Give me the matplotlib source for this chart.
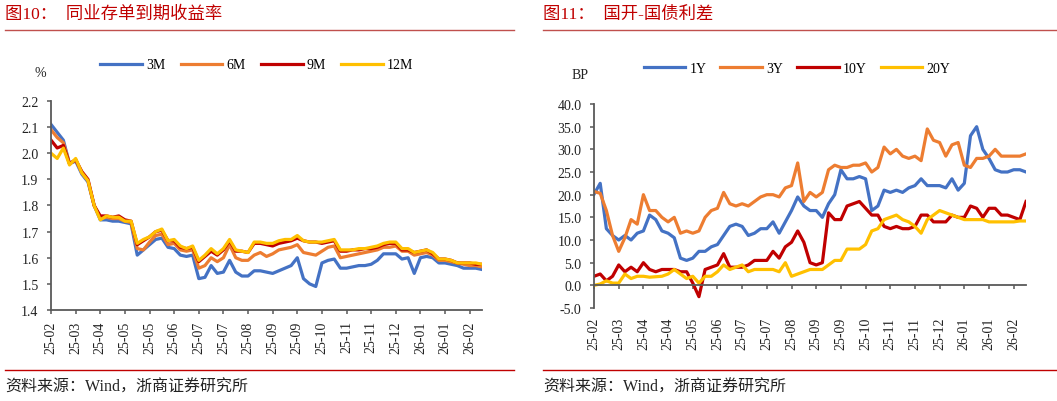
import numpy as np
import matplotlib.pyplot as plt
from matplotlib.lines import Line2D

plt.rcParams['font.family'] = ['Liberation Serif', 'Noto Sans CJK SC']
plt.rcParams['axes.unicode_minus'] = False

# ---- 图10 同业存单到期收益率 (%) ----
tick_left = ["25-02", "25-03", "25-04", "25-05", "25-05", "25-06", "25-07", "25-07", "25-08",
             "25-09", "25-09", "25-10", "25-11", "25-11", "25-12", "26-01", "26-01", "26-02"]

cd_3m = [2.11, 2.08, 2.05, 1.96, 1.97, 1.92, 1.89, 1.80, 1.745, 1.745,
         1.74, 1.74, 1.735, 1.73, 1.61, 1.63, 1.65, 1.67, 1.675, 1.64,
         1.635, 1.61, 1.605, 1.61, 1.52, 1.525, 1.57, 1.54, 1.545, 1.59,
         1.545, 1.53, 1.53, 1.55, 1.55, 1.545, 1.54, 1.55, 1.56, 1.57,
         1.60, 1.52, 1.50, 1.49, 1.58, 1.59, 1.595, 1.56, 1.56, 1.565,
         1.57, 1.57, 1.575, 1.59, 1.615, 1.615, 1.615, 1.595, 1.60, 1.54,
         1.60, 1.605, 1.60, 1.58, 1.58, 1.575, 1.57, 1.56, 1.56, 1.56, 1.555]
cd_6m = [2.09, 2.06, 2.04, 1.96, 1.975, 1.925, 1.895, 1.80, 1.75, 1.755,
         1.75, 1.75, 1.74, 1.735, 1.635, 1.63, 1.66, 1.685, 1.69, 1.65,
         1.655, 1.63, 1.625, 1.63, 1.56, 1.57, 1.60, 1.585, 1.60, 1.65,
         1.60, 1.59, 1.59, 1.61, 1.62, 1.605, 1.615, 1.63, 1.635, 1.64,
         1.65, 1.62, 1.615, 1.61, 1.625, 1.64, 1.645, 1.60, 1.605, 1.61,
         1.615, 1.62, 1.625, 1.63, 1.64, 1.64, 1.645, 1.625, 1.625, 1.61,
         1.615, 1.62, 1.61, 1.59, 1.59, 1.585, 1.58, 1.575, 1.57, 1.57, 1.565]
cd_9m = [2.05, 2.02, 2.03, 1.96, 1.975, 1.93, 1.90, 1.80, 1.76, 1.76,
         1.755, 1.76, 1.745, 1.74, 1.65, 1.665, 1.68, 1.70, 1.705, 1.665,
         1.665, 1.64, 1.635, 1.64, 1.585, 1.605, 1.625, 1.61, 1.63, 1.665,
         1.625, 1.625, 1.62, 1.655, 1.655, 1.65, 1.645, 1.655, 1.66, 1.665,
         1.675, 1.665, 1.66, 1.66, 1.655, 1.66, 1.665, 1.625, 1.625, 1.63,
         1.63, 1.635, 1.635, 1.64, 1.65, 1.655, 1.655, 1.63, 1.63, 1.62,
         1.625, 1.63, 1.615, 1.595, 1.595, 1.59, 1.58, 1.58, 1.58, 1.575, 1.575]
cd_12m = [2.00, 1.98, 2.02, 1.955, 1.98, 1.925, 1.895, 1.80, 1.745, 1.76,
          1.755, 1.755, 1.74, 1.74, 1.655, 1.67, 1.68, 1.70, 1.71, 1.665,
          1.67, 1.645, 1.635, 1.645, 1.59, 1.61, 1.635, 1.615, 1.635, 1.67,
          1.63, 1.625, 1.62, 1.66, 1.66, 1.655, 1.655, 1.665, 1.67, 1.67,
          1.685, 1.665, 1.66, 1.66, 1.66, 1.665, 1.67, 1.63, 1.63, 1.63,
          1.635, 1.635, 1.64, 1.645, 1.655, 1.66, 1.66, 1.635, 1.635, 1.62,
          1.625, 1.63, 1.62, 1.595, 1.595, 1.59, 1.58, 1.58, 1.58, 1.58, 1.575]

# ---- 图11 国开-国债利差 (BP) ----
tick_right = ["25-02", "25-03", "25-04", "25-04", "25-05", "25-06", "25-07", "25-07", "25-08",
              "25-09", "25-09", "25-10", "25-11", "25-11", "25-12", "26-01", "26-01", "26-02"]

sp_1y = [20.1, 22.5, 12.5, 11, 10, 11, 10, 11.5, 12, 15.5,
         14.5, 12, 11.5, 10.5, 6, 5.5, 6, 7.5, 7.5, 8.5,
         9, 11, 13, 13.5, 13, 11, 11.5, 12.5, 12.5, 14,
         11.5, 14, 16.5, 19.5, 17.5, 16.5, 16.5, 15, 18, 20,
         25.5, 23.5, 23.5, 24, 23.5, 16.5, 17.5, 21, 20.5, 21,
         20.5, 21.5, 22, 23.5, 22, 22, 22, 21.5, 23.5, 21,
         22.5, 33, 35, 30, 28, 25.5, 25, 25, 25.5, 25.5, 25]
sp_3y = [20.7, 20.3, 16.5, 11, 7.5, 10.5, 14.5, 13.5, 20, 16.5,
         16.5, 15, 14, 15, 11.5, 12, 11.5, 12, 15, 16.5,
         17, 20.5, 18, 17.5, 18, 17.5, 18.5, 19.5, 20, 20,
         19.5, 21.5, 22, 27, 18.5, 20.5, 19.5, 20.5, 25.5, 26.5,
         26, 26, 26.5, 26.5, 27, 25, 26, 30.5, 29, 30,
         28.5, 28, 28.5, 27.5, 34.5, 32, 31.5, 28.5, 31, 31.5,
         26.5, 26, 28, 28, 28.5, 30, 28.5, 28.5, 28.5, 28.5, 29]
sp_10y = [2, 2.5, 1, 2, 4.5, 3, 4, 3, 5, 3.5,
          3, 3.5, 3.5, 3.5, 3, 3, 0.5, -2.5, 3.5, 4,
          4.5, 7, 4, 4, 4, 4.5, 5.5, 5.5, 5.5, 7.5,
          6, 8.5, 9.5, 12, 9.5, 5, 4.5, 5, 16, 14.5,
          14.5, 17.5, 18, 18.5, 17, 15.5, 15.5, 13, 12.5, 13,
          12.5, 12.5, 13, 15.5, 15.5, 14, 14, 14, 15.5, 15,
          15, 17.5, 17, 15, 17, 17, 15.5, 15.5, 15, 14.5, 18.5]
sp_20y = [0, 0.3, 1, 0.5, 0.5, 2.5, 1.5, 2, 2, 1.8,
          1.9, 2, 2.5, 3.5, 2.5, 1.5, 2, 0.5, 2, 2,
          3, 4.5, 3.5, 4, 4.5, 3, 3.5, 3.5, 3.5, 3.5,
          3, 5, 2, 2.5, 3, 3.5, 3.5, 3.5, 4.5, 5.5,
          5.5, 8, 8, 8, 9, 12, 12.5, 14.5, 15, 15.5,
          14.5, 14, 13, 11.5, 14.5, 15.5, 16.5, 16, 15.5, 15,
          14.5, 14.5, 14.5, 14.5, 14, 14, 14, 14, 14, 14.2, 14.2]

colors = ['#4472C4', '#ED7D31', '#C00000', '#FFC000']
title_red = '#C00000'
axis_gray = '#595959'

fig = plt.figure(figsize=(10.57, 4.02), dpi=100)
ax1 = fig.add_axes([0.0483, 0.2264, 0.4077, 0.5199])
ax2 = fig.add_axes([0.562, 0.2313, 0.4087, 0.5075])

# the right chart's x axis sits on zero (set before ticks, it resets them)
ax2.spines['bottom'].set_position(('data', 0))


def style_axis(ax, xpad):
    for s in ['top', 'right']:
        ax.spines[s].set_visible(False)
    for s in ['left', 'bottom']:
        ax.spines[s].set_color(axis_gray)
        ax.spines[s].set_linewidth(1.3)
    ax.tick_params(axis='both', direction='out', length=3, width=1.1,
                   color=axis_gray, labelsize=10, labelcolor='#222222')
    ax.tick_params(axis='y', pad=6)
    ax.tick_params(axis='x', pad=xpad)


# left
x1 = np.arange(len(cd_3m))
lines1 = []
for ys, c, lab in zip([cd_3m, cd_6m, cd_9m, cd_12m], colors, ['3M', '6M', '9M', '12M']):
    ln, = ax1.plot(x1, ys, color=c, lw=2.3, label=lab, solid_joinstyle='round')
    lines1.append(ln)
ax1.set_xlim(0, 70)
ax1.set_ylim(1.4, 2.2)
ax1.set_yticks(np.arange(1.4, 2.21, 0.1))
ax1.set_yticklabels([f'{v:.1f}' for v in np.arange(1.4, 2.21, 0.1)])
ax1.set_xticks(np.arange(0, 69, 4))
ax1.set_xticklabels(tick_left, rotation=90)
style_axis(ax1, 4.5)

# right
x2 = np.arange(len(sp_1y))
lines2 = []
for ys, c, lab in zip([sp_1y, sp_3y, sp_10y, sp_20y], colors, ['1Y', '3Y', '10Y', '20Y']):
    ln, = ax2.plot(x2, ys, color=c, lw=2.3, label=lab, solid_joinstyle='round')
    lines2.append(ln)
ax2.set_xlim(0, 70)
ax2.set_ylim(-5, 40)
ax2.set_yticks(np.arange(-5, 41, 5))
ax2.set_yticklabels([f'{v:.1f}' for v in np.arange(-5, 41, 5)])
ax2.set_xticks(np.arange(0, 69, 4))
ax2.set_xticklabels(tick_right, rotation=90)
style_axis(ax2, 19.5)

# legends
fig.legend(handles=lines1, loc='center', bbox_to_anchor=(0.243, 0.836), ncol=4,
           frameon=False, fontsize=10, handlelength=3.0, handletextpad=0.3,
           columnspacing=1.1)
fig.legend(handles=lines2, loc='center', bbox_to_anchor=(0.754, 0.828), ncol=4,
           frameon=False, fontsize=10, handlelength=3.0, handletextpad=0.3,
           columnspacing=1.0)

fig.text(0.0378, 0.816, '%', fontsize=10, ha='center', va='center', color='#222222')
fig.text(0.549, 0.811, 'BP', fontsize=10, ha='center', va='center', color='#222222')

# titles, rules and source notes
fig.text(0.005, 0.963, '图10：  同业存单到期收益率', fontsize=12.5, color=title_red,
         ha='left', va='center')
fig.text(0.5135, 0.963, '图11：  国开-国债利差', fontsize=12.5, color=title_red,
         ha='left', va='center')
for xa, xb in [(0.005, 0.486), (0.5135, 1.0)]:
    fig.add_artist(Line2D([xa, xb], [0.923, 0.923], color='#C0504D', lw=1.0,
                          transform=fig.transFigure))
    fig.add_artist(Line2D([xa, xb], [0.077, 0.077], color='#C00000', lw=1.0,
                          transform=fig.transFigure))
fig.text(0.005, 0.035, '资料来源：Wind，浙商证券研究所', fontsize=11.5, color='#222222',
         ha='left', va='center')
fig.text(0.5135, 0.035, '资料来源：Wind，浙商证券研究所', fontsize=11.5, color='#222222',
         ha='left', va='center')

fig.savefig('out.png', dpi=100)
